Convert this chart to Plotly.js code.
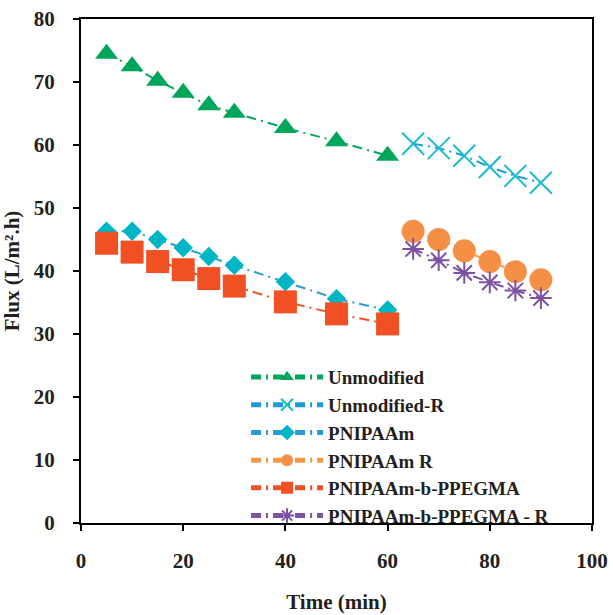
<!DOCTYPE html>
<html>
<head>
<meta charset="utf-8">
<script src="https://cdn.plot.ly/plotly-3.0.1.min.js"></script>
<style>html,body{margin:0;padding:0;background:#fff;}#chart{width:613px;height:615px;}</style>
</head>
<body>
<div id="chart"></div>
<script>
var timeA = [5, 10, 15, 20, 25, 30, 40, 50, 60];
var timeR = [65, 70, 75, 80, 85, 90];
var unmodified = [74.5, 72.5, 70.2, 68.3, 66.3, 65.1, 62.7, 60.6, 58.3];
var unmodifiedR = [60.2, 59.5, 58.3, 56.5, 55.1, 54.0];
var pnipaam = [46.3, 46.3, 45.0, 43.7, 42.3, 40.9, 38.3, 35.6, 33.8];
var pnipaamR = [46.3, 45.0, 43.2, 41.5, 39.9, 38.6];
var ppegma = [44.4, 43.0, 41.5, 40.2, 38.8, 37.6, 35.1, 33.2, 31.6];
var ppegmaR = [43.5, 41.7, 39.7, 38.2, 36.9, 35.7];
var names = ["Unmodified", "Unmodified-R", "PNIPAAm", "PNIPAAm R", "PNIPAAm-b-PPEGMA", "PNIPAAm-b-PPEGMA - R"];

var dashStyle = "10px,5px,2px,5px";
function tr(x, y, name, lineColor, sym, size, mColor, open) {
  var marker = {symbol: sym, size: size, color: mColor};
  if (open) marker.line = {color: mColor, width: 2};
  return {x: x, y: y, name: name, type: "scatter", mode: "lines+markers",
    line: {color: lineColor, width: 2, dash: dashStyle}, marker: marker};
}
var data = [
  tr(timeA, unmodified, names[0], "#00A65A", "triangle-up", 20, "#00A65A", false),
  tr(timeR, unmodifiedR, names[1], "#1F9AD6", "x-thin-open", 22, "#1BBCCF", true),
  tr(timeA, pnipaam, names[2], "#2B9BD8", "diamond", 15, "#00B5C4", false),
  tr(timeR, pnipaamR, names[3], "#F79646", "circle", 23, "#F58F45", false),
  tr(timeA, ppegma, names[4], "#F05024", "square", 23, "#F05024", false),
  tr(timeR, ppegmaR, names[5], "#7D52A3", "asterisk-open", 18, "#7D52A3", true)
];
var fam = "Liberation Serif, Times New Roman, serif";
var fnt = {family: fam, size: 21, color: "#231F20", weight: "bold"};
var lfnt = {family: fam, size: 19, color: "#231F20", weight: "bold"};
var layout = {
  width: 613, height: 615,
  margin: {l: 81, r: 21, t: 19, b: 92},
  paper_bgcolor: "#fff", plot_bgcolor: "#fff",
  font: fnt,
  showlegend: true,
  legend: {x: 0.323, xanchor: "left", y: 0.327, yanchor: "top", bgcolor: "rgba(0,0,0,0)",
    font: lfnt, itemwidth: 72, itemsizing: "constant", tracegroupgap: 0},
  xaxis: {range: [0, 100], dtick: 20, tick0: 0, showgrid: false, zeroline: false,
    showline: true, linecolor: "#000", linewidth: 2, mirror: true,
    ticks: "outside", ticklen: 6, tickwidth: 2, tickcolor: "#000", ticklabelstandoff: 12,
    tickfont: fnt, title: {text: "Time (min)", font: fnt, standoff: 22}},
  yaxis: {range: [0, 80], dtick: 10, tick0: 0, showgrid: false, zeroline: false,
    showline: true, linecolor: "#000", linewidth: 2, mirror: true,
    ticks: "outside", ticklen: 6, tickwidth: 2, tickcolor: "#000", ticklabelstandoff: 14,
    tickfont: fnt, title: {text: "Flux (L/m².h)", font: fnt, standoff: 12}}
};
Plotly.newPlot("chart", data, layout, {displayModeBar: false, staticPlot: true});
</script>
</body>
</html>
